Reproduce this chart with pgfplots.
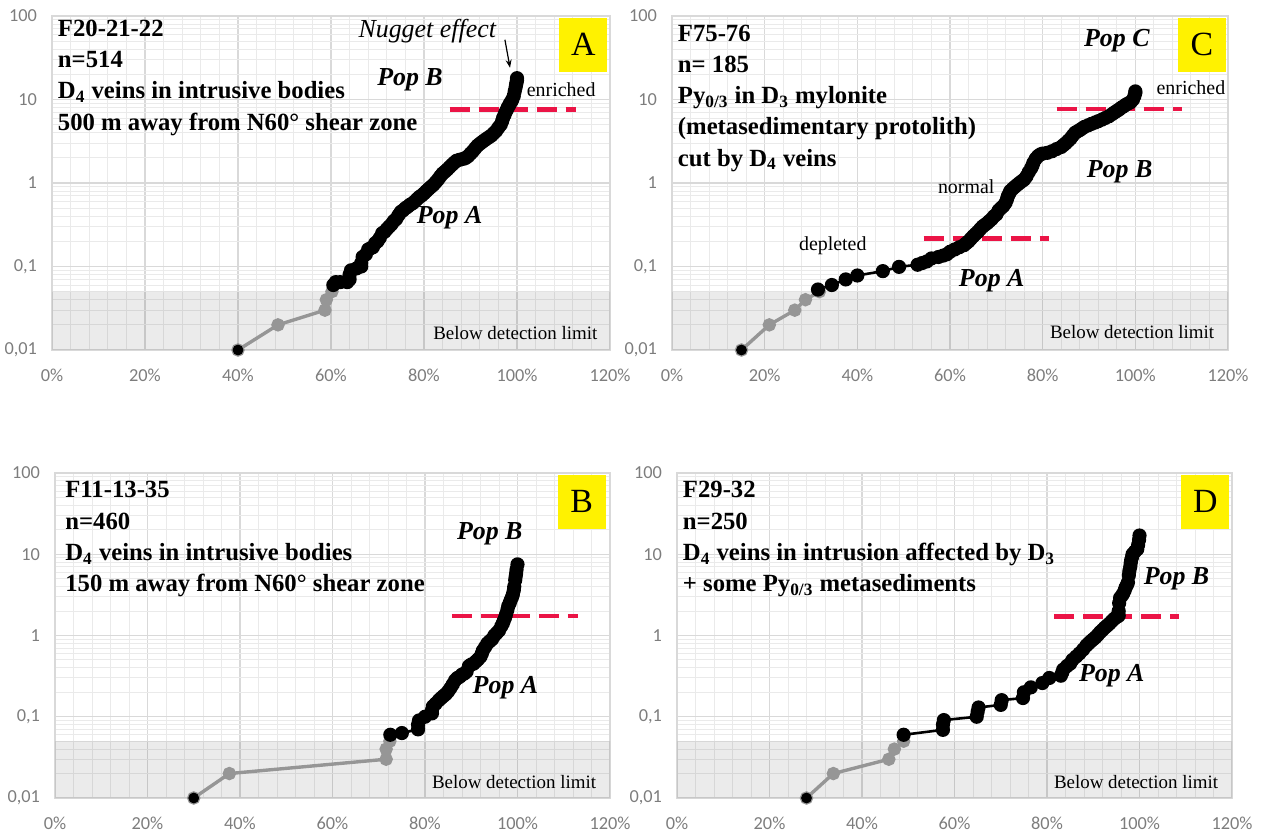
\documentclass[border=0pt]{standalone}
\usepackage{fontspec}
\setmainfont{Liberation Serif}
\newfontfamily\tickfont{Carlito}
\usepackage{pgfplots}
\pgfplotsset{compat=1.18}
\usetikzlibrary{arrows.meta}

\definecolor{framegray}{RGB}{217,217,217}
\definecolor{gridmajor}{RGB}{217,217,217}
\definecolor{gridminor}{RGB}{234,234,234}
\definecolor{tickgray}{RGB}{125,125,125}
\definecolor{lowgray}{RGB}{150,150,150}
\definecolor{reddash}{RGB}{235,20,70}

\newcommand\blockfont{\fontsize{12.4}{15.7}\selectfont\bfseries}
\newcommand\popfont{\fontsize{13}{14}\selectfont\bfseries\itshape}
\newcommand\smallfont{\fontsize{10}{11}\selectfont}

\pgfplotsset{
  panel/.style={
    scale only axis, anchor=south west,
    xmin=0, xmax=120, ymin=0.01, ymax=100,
    xtick={0,20,40,60,80,100,120},
    xticklabels={0\%,20\%,40\%,60\%,80\%,100\%,120\%},
    minor x tick num=4,
    ytick={0.01,0.1,1,10,100},
    yticklabels={{0,01},{0,1},{1},{10},{100}},
    minor ytick={0.02,0.03,0.04,0.05,0.06,0.07,0.08,0.09,
                 0.2,0.3,0.4,0.5,0.6,0.7,0.8,0.9,
                 2,3,4,5,6,7,8,9,20,30,40,50,60,70,80,90},
    grid=both,
    major grid style={draw=gridmajor, line width=0.6bp},
    minor grid style={draw=gridminor, line width=0.5bp},
    tick style={draw=none},
    axis line style={draw=framegray, line width=0.7bp},
    ticklabel style={font=\tickfont\fontsize{9.2}{10}\selectfont, text=tickgray},
    xticklabel style={yshift=-6bp},
    yticklabel style={xshift=-4bp},
    clip=false,
  },
  blackline/.style={black, line width=1.3bp, mark=*, mark size=2.9pt},
  grayline/.style={lowgray, line width=1.7bp, mark=*, mark size=2.5pt, mark options={fill=lowgray, draw=lowgray}},
  redline/.style={reddash, line width=2.4bp, dash pattern=on 10bp off 4.5bp},
  bdl/.style={fill=black, fill opacity=0.08, draw=none},
}

\begin{document}
\begin{tikzpicture}
\useasboundingbox (0,0) rectangle (633bp,417bp);

% ---------------- A ----------------
\begin{axis}[ymode=log, panel, at={(26bp,242bp)}, width=279bp, height=167bp]
\addplot[bdl] coordinates {(0,0.01) (120,0.01) (120,0.05) (0,0.05) (0,0.01)};
\addplot[grayline] coordinates {(40,0.01) (48.6,0.02) (58.7,0.03) (59,0.04) (60.2,0.05)};
\addplot[black, only marks, mark=*, mark size=2.5pt] coordinates {(40,0.01)};
\addplot[blackline] coordinates {
(60.5,0.06) (61,0.065) (62,0.065) (63.5,0.065) (64,0.07) (64,0.08) (64.3,0.09) (65.5,0.095)
(66.5,0.1) (66.5,0.11) (66.8,0.13) (67.5,0.14) (68,0.16) (68.5,0.165) (69,0.17) (69.5,0.19)
(70,0.2) (70.5,0.22) (71,0.25) (71.5,0.26) (72,0.28) (72.5,0.3) (73,0.32) (73.5,0.35)
(74,0.37) (74.5,0.41) (75,0.45) (75.5,0.47) (76,0.5) (76.5,0.52) (77,0.55) (77.5,0.57)
(78,0.6) (78.5,0.64) (79,0.68) (79.5,0.71) (80,0.75) (80.5,0.8) (81,0.85) (81.5,0.9)
(82,0.95) (82.5,1.02) (83,1.1) (83.5,1.2) (84,1.3) (84.5,1.37) (85,1.45) (85.5,1.55)
(86,1.65) (86.5,1.75) (87,1.85) (87.7,1.9) (88.5,1.95) (89,2.0) (89.5,2.1) (90,2.25)
(90.5,2.4) (91,2.6) (91.5,2.8) (92,2.95) (92.5,3.1) (93,3.25) (93.5,3.4) (94,3.55)
(94.5,3.7) (95,3.95) (95.5,4.2) (96,4.6) (96.5,5) (96.8,5.5) (97,6) (97.3,6.5) (97.5,7)
(97.8,7.5) (98,8) (98.3,8.5) (98.5,9) (98.8,9.5) (99,10) (99.3,11) (99.5,12.5) (99.7,14)
(99.8,15) (99.9,16) (100,17) (100,18)};
\addplot[redline] coordinates {(85.5,7.6) (112.7,7.6)};
\node[anchor=north west, align=left, inner sep=0pt, font=\blockfont] at (rel axis cs:0.01,0.99)
  {F20-21-22\\n=514\\D\textsubscript{4} veins in intrusive bodies\\500 m away from N60° shear zone};
\node[font=\fontsize{13}{14}\selectfont\itshape] at (axis cs:80.7,66) {Nugget effect};
\draw[-{Stealth[length=4bp,width=3bp]}, line width=0.6bp] (axis cs:97.4,52) -- (axis cs:98.5,24);
\node[font=\popfont] at (axis cs:77,17) {Pop B};
\node[font=\popfont] at (axis cs:85.5,0.38) {Pop A};
\node[font=\smallfont] at (axis cs:109.5,13) {enriched};
\node[font=\fontsize{9.5}{10}\selectfont, anchor=east] at (axis cs:118.8,0.016) {Below detection limit};
\node[fill=yellow, minimum width=24bp, minimum height=27bp, anchor=north east, inner sep=0pt,
  font=\fontsize{17}{17}\selectfont] at (rel axis cs:0.996,0.996) {A};
\end{axis}

% ---------------- C ----------------
\begin{axis}[ymode=log, panel, at={(336bp,242bp)}, width=278bp, height=167bp]
\addplot[bdl] coordinates {(0,0.01) (120,0.01) (120,0.05) (0,0.05) (0,0.01)};
\addplot[grayline] coordinates {(15,0.01) (21,0.02) (26.5,0.03) (28.8,0.04) (31.8,0.05)};
\addplot[black, only marks, mark=*, mark size=2.5pt] coordinates {(15,0.01)};
\addplot[blackline] coordinates {
(31.5,0.053) (34.5,0.06) (37.5,0.07) (40,0.078) (45.5,0.088) (49,0.099) (53,0.105) (54,0.11)
(55,0.115) (56,0.125) (57.5,0.13) (58.5,0.135) (59.3,0.14) (60,0.15) (61,0.16) (62,0.17)
(63,0.18) (63.5,0.19) (64,0.2) (64.5,0.215) (65,0.23) (65.5,0.245) (66,0.26) (66.5,0.28)
(67,0.3) (67.5,0.315) (68,0.33) (68.5,0.35) (69,0.37) (69.5,0.4) (70,0.42) (70.5,0.47)
(71,0.5) (71.5,0.53) (72,0.58) (72.3,0.64) (72.5,0.7) (72.8,0.75) (73,0.8) (73.5,0.85)
(74,0.9) (74.5,0.95) (75,1.0) (75.5,1.05) (76,1.1) (76.5,1.2) (77,1.35) (77.5,1.5)
(77.8,1.62) (78,1.75) (78.5,1.95) (79,2.1) (79.5,2.2) (80,2.25) (81,2.3) (82,2.4)
(83,2.55) (84,2.7) (84.5,2.85) (85,3.0) (85.5,3.2) (86,3.4) (86.5,3.7) (87,4.0)
(87.5,4.15) (88,4.3) (88.5,4.5) (89,4.7) (89.8,4.9) (90.5,5.1) (91.3,5.3) (92,5.5)
(92.8,5.75) (93.5,6) (94.3,6.3) (95,6.7) (95.5,7) (96,7.3) (96.5,7.6) (97,8) (97.5,8.3)
(98,8.7) (98.5,9) (99,9.3) (99.5,10) (99.8,11) (100,12) (100,12.5)};
\addplot[redline] coordinates {(83,7.7) (110,7.7)};
\addplot[redline] coordinates {(54.3,0.217) (81.3,0.217)};
\node[anchor=north west, align=left, inner sep=0pt, font=\blockfont] at (rel axis cs:0.01,0.975)
  {F75-76\\n= 185\\Py\textsubscript{0/3} in D\textsubscript{3} mylonite\\(metasedimentary protolith)\\cut by D\textsubscript{4} veins};
\node[font=\popfont] at (axis cs:96,51) {Pop C};
\node[font=\popfont] at (axis cs:96.6,1.36) {Pop B};
\node[font=\popfont] at (axis cs:69,0.067) {Pop A};
\node[font=\smallfont] at (axis cs:112,14) {enriched};
\node[font=\smallfont] at (axis cs:63.5,0.9) {normal};
\node[font=\smallfont] at (axis cs:34.7,0.178) {depleted};
\node[font=\fontsize{9.5}{10}\selectfont, anchor=east] at (axis cs:118.5,0.0166) {Below detection limit};
\node[fill=yellow, minimum width=24bp, minimum height=27bp, anchor=north east, inner sep=0pt,
  font=\fontsize{17}{17}\selectfont] at (rel axis cs:0.997,0.996) {C};
\end{axis}

% ---------------- B ----------------
\begin{axis}[ymode=log, panel, at={(27.5bp,18bp)}, width=277.5bp, height=162.5bp]
\addplot[bdl] coordinates {(0,0.01) (120,0.01) (120,0.05) (0,0.05) (0,0.01)};
\addplot[grayline] coordinates {(30,0.01) (37.7,0.02) (71.6,0.03) (71.6,0.04) (72.4,0.05)};
\addplot[black, only marks, mark=*, mark size=2.5pt] coordinates {(30,0.01)};
\addplot[blackline] coordinates {
(72.5,0.06) (75,0.063) (78.5,0.07) (78.5,0.08) (78.7,0.09) (80,0.1) (81.5,0.11) (81.5,0.12)
(81.7,0.134) (82.3,0.145) (83,0.16) (83.5,0.17) (84,0.18) (84.5,0.19) (85,0.205) (85.5,0.225)
(86,0.25) (86.5,0.28) (87,0.3) (87.5,0.31) (88,0.33) (88.5,0.34) (89,0.36) (89.5,0.42)
(90,0.44) (90.5,0.45) (91,0.48) (91.5,0.51) (92,0.55) (92.3,0.6) (92.5,0.65) (93,0.72)
(93.5,0.8) (94,0.85) (94.5,0.9) (95,1.0) (95.5,1.07) (96,1.15) (96.5,1.3) (96.8,1.4)
(97,1.5) (97.3,1.65) (97.5,1.8) (97.8,2.05) (98,2.3) (98.3,2.5) (98.5,2.7) (98.8,2.95)
(99,3.2) (99.2,3.6) (99.3,4) (99.5,4.8) (99.6,5.3) (99.7,5.8) (99.8,6.5) (100,7.5)};
\addplot[redline] coordinates {(85.8,1.74) (113,1.74)};
\node[anchor=north west, align=left, inner sep=0pt, font=\blockfont] at (rel axis cs:0.018,0.975)
  {F11-13-35\\n=460\\D\textsubscript{4} veins in intrusive bodies\\150 m away from N60° shear zone};
\node[font=\popfont] at (axis cs:94,18) {Pop B};
\node[font=\popfont] at (axis cs:97.4,0.23) {Pop A};
\node[font=\fontsize{9.5}{10}\selectfont, anchor=east] at (axis cs:118.5,0.0158) {Below detection limit};
\node[fill=yellow, minimum width=24bp, minimum height=27bp, anchor=north east, inner sep=0pt,
  font=\fontsize{17}{17}\selectfont] at (rel axis cs:0.993,0.996) {B};
\end{axis}

% ---------------- D ----------------
\begin{axis}[ymode=log, panel, at={(338.5bp,18bp)}, width=277.5bp, height=162.5bp]
\addplot[bdl] coordinates {(0,0.01) (120,0.01) (120,0.05) (0,0.05) (0,0.01)};
\addplot[grayline] coordinates {(28,0.01) (33.8,0.02) (45.8,0.03) (47,0.04) (49,0.05)};
\addplot[black, only marks, mark=*, mark size=2.5pt] coordinates {(28,0.01)};
\addplot[blackline] coordinates {
(49,0.06) (57.5,0.069) (57.5,0.08) (57.7,0.091) (64.8,0.1) (65,0.115) (65.2,0.13) (70,0.14)
(70.2,0.16) (74.8,0.17) (75,0.2) (76.5,0.23) (79,0.26) (80.5,0.3) (83,0.32) (83.3,0.35)
(83.5,0.38) (84.3,0.42) (85,0.45) (85.5,0.5) (86.3,0.55) (87,0.6) (87.8,0.67) (88.5,0.75)
(89,0.8) (89.5,0.85) (90,0.9) (90.5,0.95) (91,1.02) (91.5,1.1) (92,1.17) (92.5,1.25)
(93,1.32) (93.5,1.4) (94,1.5) (94.5,1.6) (95,1.68) (95.5,1.75) (95.5,2.0) (95.6,2.5)
(95.8,2.9) (96.2,3.1) (96.5,3.3) (96.8,3.6) (97,3.9) (97.3,4.2) (97.5,4.5) (97.7,5.5)
(97.8,6.2) (98,7) (98.1,7.8) (98.2,8.5) (98.4,9.3) (98.5,10) (99,10.8) (99.5,11.5)
(99.7,13) (99.9,15) (100,17)};
\addplot[redline] coordinates {(81.6,1.7) (108.6,1.7)};
\node[anchor=north west, align=left, inner sep=0pt, font=\blockfont] at (rel axis cs:0.01,0.975)
  {F29-32\\n=250\\D\textsubscript{4} veins in intrusion affected by D\textsubscript{3}\\+ some Py\textsubscript{0/3} metasediments};
\node[font=\popfont] at (axis cs:108,5.0) {Pop B};
\node[font=\popfont] at (axis cs:94,0.32) {Pop A};
\node[font=\fontsize{9.5}{10}\selectfont, anchor=east] at (axis cs:118.5,0.0158) {Below detection limit};
\node[fill=yellow, minimum width=24bp, minimum height=27bp, anchor=north east, inner sep=0pt,
  font=\fontsize{17}{17}\selectfont] at (rel axis cs:0.996,0.996) {D};
\end{axis}
\end{tikzpicture}
\end{document}
